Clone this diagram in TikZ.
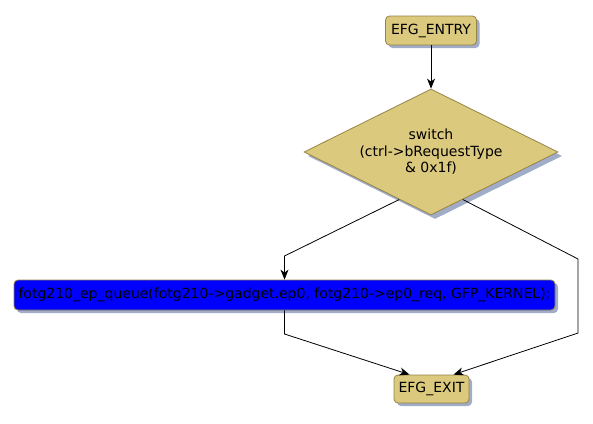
\documentclass[tikz,border=0pt]{standalone}
\usepackage{fontspec}
\setmainfont{DejaVu Sans}
\usetikzlibrary{arrows.meta,shapes.geometric,shadows,calc}

\definecolor{boxfill}{RGB}{219,201,126}
\definecolor{boxline}{RGB}{150,132,70}
\definecolor{shadowcol}{RGB}{160,172,200}
\definecolor{callfill}{RGB}{0,0,255}

\tikzset{
  flowbox/.style={draw=boxline, fill=boxfill, rounded corners=4pt, line width=0.8pt,
    inner sep=0pt, font=\fontsize{14}{16.5}\selectfont,
    drop shadow={shadow xshift=3pt, shadow yshift=-3pt, fill=shadowcol, opacity=1}},
  callbox/.style={flowbox, fill=callfill},
  decision/.style={diamond, aspect=2, draw=boxline, fill=boxfill, line width=0.8pt,
    inner sep=0pt, minimum width=254pt, minimum height=126pt, align=center,
    font=\fontsize{14}{16.5}\selectfont,
    drop shadow={shadow xshift=4pt, shadow yshift=-4pt, fill=shadowcol, opacity=1}},
  flow/.style={line width=0.8pt, -{Stealth[length=10pt, width=8pt, inset=3pt]}}
}

\begin{document}
\begin{tikzpicture}[x=1pt, y=-1pt]
            \useasboundingbox (0,0) rectangle (593,423);

            \node[flowbox, minimum width=91pt, minimum height=29pt] (entry) at (431,30.5) {EFG\_ENTRY};
            \node[decision] (switch) at (431,152) {switch\\(ctrl->bRequestType\\\& 0x1f)};
            \node[callbox, minimum width=541pt, minimum height=30pt] (queue) at (284.5,295)
                {fotg210\_ep\_queue(fotg210->gadget.ep0, fotg210->ep0\_req, GFP\_KERNEL);};
            \node[flowbox, minimum width=75pt, minimum height=28pt] (exit) at (431.5,389) {EFG\_EXIT};

            % bends of the branches
            \coordinate (caseL) at ($(switch.west)!0.75!(switch.south)$);
            \coordinate (caseR) at ($(switch.east)!0.75!(switch.south)$);
            \coordinate (bendL) at (284.5,256);
            \coordinate (bendR) at (578,259);
            \coordinate (joinR) at (578,333);
            \coordinate (joinL) at (284.5,334);

            \draw[flow] (entry) -- (switch.north);
            \draw[flow] (caseL) -- (bendL) -- (queue.north);
            \draw[flow] (queue.south) -- (joinL) -- ($(exit.north)+(-22,0)$);
            \draw[flow] (caseR) -- (bendR) -- (joinR) -- ($(exit.north)+(22,0)$);
        \end{tikzpicture}
\end{document}
